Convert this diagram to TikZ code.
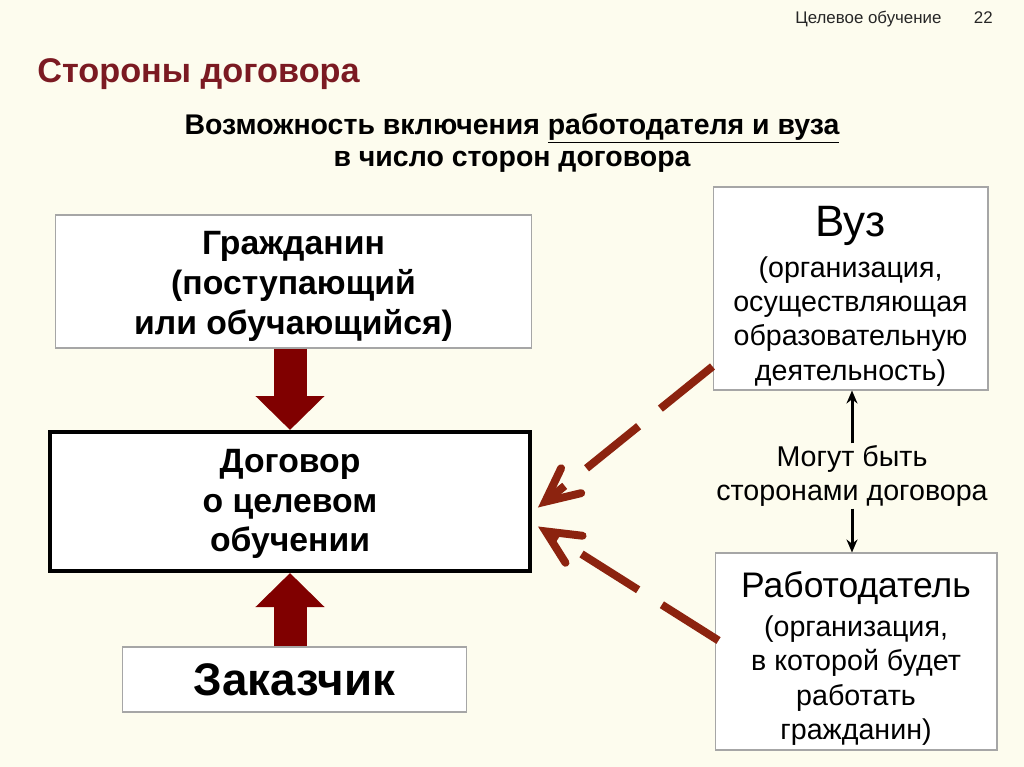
\documentclass[tikz,border=0pt]{standalone}
\usepackage{fontspec}
\setmainfont{Liberation Sans}
\usetikzlibrary{arrows.meta, calc}
\definecolor{slidebg}{HTML}{FDFCEE}
\definecolor{titlered}{HTML}{7B1A22}
\definecolor{fatred}{HTML}{800000}
\definecolor{dashred}{HTML}{8C230F}
\definecolor{boxline}{HTML}{A6A6A6}

\begin{document}
\begin{tikzpicture}[x=0.02cm, y=-0.02cm,
    party/.style={rectangle, draw=boxline, fill=white, line width=0.6pt, align=center, inner sep=0pt},
    boldtext/.style={font=\bfseries\fontsize{19.2}{22.7}\selectfont},
    plaintext/.style={font=\fontsize{16.3}{19.4}\selectfont},
    fat/.style={fatred, line width=0.66cm, -{Triangle[length=0.68cm, width=1.34cm]}},
    maybe/.style={dashred, line width=4.5pt, dash pattern=on 1.34cm off 0.56cm, -{Straight Barb[length=0.67cm, width=0.64cm, line cap=round]}},
    link/.style={line width=1.7pt, -{Stealth[length=0.26cm, width=0.22cm]}}
]

\fill[slidebg] (0,0) rectangle (1024,767);
\useasboundingbox (0,0) rectangle (1024,767);

% header
\node[anchor=base west, inner sep=0pt, font=\fontsize{9.6}{11}\selectfont, text=black!85] (topic) at (795,24) {Целевое обучение};
\node[anchor=base east, inner sep=0pt, font=\fontsize{9.6}{11}\selectfont, text=black!85] (page) at (993,24) {22};
\node[anchor=base west, inner sep=0pt, font=\bfseries\fontsize{19.5}{23}\selectfont, text=titlered] (title) at (37,83) {Стороны договора};
\node[align=center, font=\bfseries\fontsize{16.2}{18.7}\selectfont] (lead) at (512,143)
    {Возможность включения \underline{работодателя и вуза}\\в число сторон договора};

% parties
\node[party, boldtext, minimum width=9.54cm, minimum height=2.66cm] (citizen) at (293.5,281.5)
    {\rule{0pt}{18.5pt}Гражданин\\(поступающий\\или обучающийся)};
\node[party, boldtext, draw=black, line width=2.3pt, minimum width=9.6cm, minimum height=2.78cm] (contract) at (290,501.5)
    {\rule{0pt}{16pt}Договор\\о целевом\\обучении};
\node[party, font=\bfseries\fontsize{26}{30}\selectfont, minimum width=6.9cm, minimum height=1.3cm] (customer) at (294.5,679.5)
    {Заказчик};
\node[party, plaintext, minimum width=5.5cm, minimum height=4.06cm] (uni) at (850.5,288.5)
    {{\fontsize{25}{28}\selectfont\rule{0pt}{26pt}Вуз}\\[4pt](организация,\\осуществляющая\\образовательную\\деятельность)};
\node[party, plaintext, minimum width=5.64cm, minimum height=3.94cm] (employer) at (856,651.5)
    {{\fontsize{20.2}{24}\selectfont\rule{0pt}{22.5pt}Работодатель}\\[3pt](организация,\\в которой будет\\работать\\гражданин)};
\node[plaintext, align=center, inner sep=1pt] (may) at (852,476) {Могут быть\\сторонами договора};

% arrows
\draw[fat] (citizen.south -| contract.north) -- (contract.north);
\draw[fat] (customer.north -| contract.south) -- (contract.south);
\draw[maybe] ($(uni.south west)+(0,-24)$) -- ($(contract.east)+(6,6)$);
\draw[maybe] ($(employer.west)+(4,-11)$) -- ($(contract.east)+(6,25)$);
\draw[link] (may.north) -- (may.north |- uni.south);
\draw[link] (may.south) -- (may.south |- employer.north);

\end{tikzpicture}
\end{document}
